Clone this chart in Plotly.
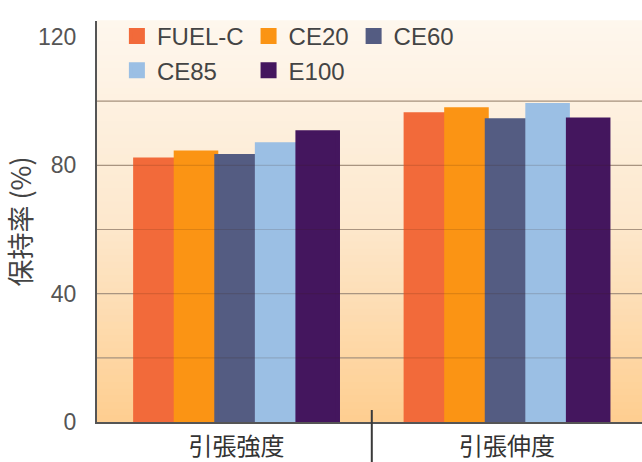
import plotly.graph_objects as go

categories = ["引張強度", "引張伸度"]
series_names = ["FUEL-C", "CE20", "CE60", "CE85", "E100"]
fuel_c = [81.8, 95.9]
ce20 = [84.0, 97.5]
ce60 = [82.9, 94.1]
ce85 = [86.6, 98.8]
e100 = [90.3, 94.3]
y_ticks = [0, 40, 80, 120]
grid_vals = [20, 40, 60, 80, 100]

colors = ["#F26A3A", "#FB9414", "#545C82", "#9BBFE4", "#44165E"]
legend_groups = ["g1", "g2", "g3", "g1", "g2"]
values = [fuel_c, ce20, ce60, ce85, e100]

fig = go.Figure()
for name, vals, col, grp in zip(series_names, values, colors, legend_groups):
    fig.add_trace(go.Bar(x=categories, y=vals, name=name, legendgroup=grp,
                         marker=dict(color=col, line=dict(width=4, color=col))))

# background gradient (styling)
def lerp(c1, c2, t):
    return "rgb(%d,%d,%d)" % tuple(round(a + (b - a) * t) for a, b in zip(c1, c2))

top_c = (254, 247, 238)
mid_c = (253, 232, 205)
bot_c = (254, 206, 144)
N = 60
shapes = []
for i in range(N):
    t = (i + 0.5) / N  # 0 bottom -> 1 top
    if t < 0.5:
        col = lerp(bot_c, mid_c, t / 0.5)
    else:
        col = lerp(mid_c, top_c, (t - 0.5) / 0.5)
    shapes.append(dict(type="rect", xref="paper", yref="paper",
                       x0=0, x1=1.0, y0=i / N, y1=(i + 1) / N + 0.002,
                       fillcolor=col, line=dict(width=0), layer="below"))
for g in grid_vals:
    shapes.append(dict(type="line", xref="paper", yref="y", x0=0, x1=1,
                       y0=g, y1=g, line=dict(color="#BDAA96", width=1.2),
                       layer="below"))
    shapes.append(dict(type="line", xref="paper", yref="y", x0=0, x1=1,
                       y0=g, y1=g, line=dict(color="rgba(60,30,10,0.15)", width=1.2),
                       layer="above"))
# divider between categories
shapes.append(dict(type="line", xref="x", yref="paper", x0=0.5, x1=0.5,
                   y0=0.03, y1=-0.12, line=dict(color="#3A3A3A", width=2),
                   layer="above"))

fig.update_layout(
    width=642, height=462,
    margin=dict(l=97, r=0, t=21, b=40, autoexpand=False),
    paper_bgcolor="white",
    plot_bgcolor="rgba(0,0,0,0)",
    barmode="group", bargap=0.25, bargroupgap=0,
    font=dict(family="Liberation Sans, Arial, Noto Sans CJK JP", size=20, color="#444444"),
    shapes=shapes,
    legend=dict(orientation="h", x=0.0365, y=1.0175, xanchor="left", yanchor="top",
                bgcolor="rgba(0,0,0,0)", font=dict(size=24, color="#444444"),
                traceorder="grouped", tracegroupgap=18, itemclick=False),
    showlegend=True,
)
fig.update_xaxes(
    range=[-0.516, 1.499], showgrid=False, showline=True, linecolor="#555555", linewidth=2,
    ticks="", tickfont=dict(family="Noto Sans CJK JP", size=24, color="#333333"),
    ticklabelstandoff=2, zeroline=False,
)
fig.update_yaxes(
    range=[0, 125], tickvals=y_ticks, showgrid=False, zeroline=False,
    showline=True, linecolor="#555555", linewidth=2, ticks="",
    tickfont=dict(family="Liberation Sans, Arial", size=23, color="#555555"),
    ticklabelstandoff=14,
    title=dict(text="保持率 (%)", font=dict(family="Noto Sans CJK JP", size=27, color="#444444"),
               standoff=2),
)
fig.write_html("out.html", config={"displayModeBar": False},
               post_script="document.body.style.margin='0px';")
